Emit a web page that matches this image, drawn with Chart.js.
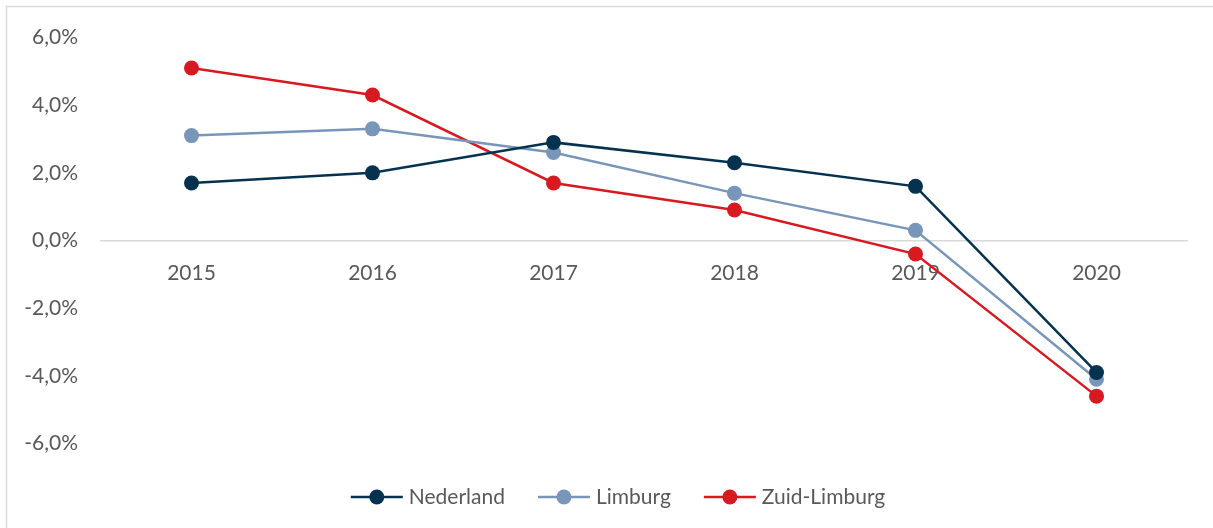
<!DOCTYPE html>
<html>
<head>
<meta charset="utf-8">
<script src="https://cdn.jsdelivr.net/npm/chart.js@4"></script>
<style>
  html, body { margin: 0; padding: 0; background: #ffffff; }
  #wrap { position: relative; width: 1213px; height: 528px; }
</style>
</head>
<body>
<div id="wrap"><canvas id="chart" width="1213" height="528"></canvas></div>
<script>
// Jaarlijkse verandering (%) per regio
const years = ['2015', '2016', '2017', '2018', '2019', '2020'];
const nederland = [1.7, 2.0, 2.9, 2.3, 1.6, -3.9];
const limburg = [3.1, 3.3, 2.6, 1.4, 0.3, -4.1];
const zuidLimburg = [5.1, 4.3, 1.7, 0.9, -0.4, -4.6];
const yTicks = [-6, -4, -2, 0, 2, 4, 6];

const FONT = 'Lato, "Open Sans", sans-serif';
const TEXT = '#595959';

function series(label, data, color) {
  return {
    label, data,
    borderColor: color,
    backgroundColor: color,
    pointBackgroundColor: color,
    pointBorderColor: color,
    borderWidth: 2.5,
    pointRadius: 7.5,
    pointHoverRadius: 7.5,
    pointBorderWidth: 0,
    tension: 0
  };
}

// Frame around the chart object
const framePlugin = {
  id: 'frame',
  beforeDraw(chart) {
    const ctx = chart.ctx;
    ctx.save();
    ctx.strokeStyle = '#d9d9d9';
    ctx.lineWidth = 1.5;
    ctx.strokeRect(6.5, 6.5, chart.width + 20, chart.height + 20);
    ctx.restore();
  }
};

// Legend with line + marker swatches, centred below the plot
const lineLegend = {
  id: 'lineLegend',
  afterDraw(chart) {
    const ctx = chart.ctx;
    const sets = chart.data.datasets;
    const swatch = 52, gap = 6, itemGap = 33, y = 497;
    ctx.save();
    ctx.font = '21px ' + FONT;
    const widths = sets.map(d => swatch + gap + ctx.measureText(d.label).width);
    const total = widths.reduce((a, b) => a + b, 0) + itemGap * (sets.length - 1);
    let x = 618 - total / 2;
    sets.forEach((d, i) => {
      ctx.strokeStyle = d.borderColor;
      ctx.lineWidth = 2.5;
      ctx.beginPath();
      ctx.moveTo(x, y);
      ctx.lineTo(x + swatch, y);
      ctx.stroke();
      ctx.fillStyle = d.borderColor;
      ctx.beginPath();
      ctx.arc(x + swatch / 2, y, 7.5, 0, Math.PI * 2);
      ctx.fill();
      ctx.fillStyle = TEXT;
      ctx.textBaseline = 'middle';
      ctx.textAlign = 'left';
      ctx.fillText(d.label, x + swatch + gap, y);
      x += widths[i] + itemGap;
    });
    ctx.restore();
  }
};

new Chart(document.getElementById('chart'), {
  type: 'line',
  data: {
    labels: years,
    datasets: [
      series('Nederland', nederland, '#05324f'),
      series('Limburg', limburg, '#7895ba'),
      series('Zuid-Limburg', zuidLimburg, '#d71920')
    ]
  },
  options: {
    responsive: false,
    animation: false,
    devicePixelRatio: 1,
    layout: { padding: { left: 0, right: 26, top: 37.5, bottom: 84.5 } },
    plugins: {
      legend: { display: false },
      tooltip: { enabled: false }
    },
    scales: {
      x: {
        position: { y: 0 },
        offset: true,
        grid: { display: false, drawTicks: false },
        border: { display: true, color: '#d9d9d9', width: 1.5 },
        ticks: { color: TEXT, font: { family: FONT, size: 21 }, padding: 20, maxRotation: 0 }
      },
      y: {
        min: -6, max: 6,
        afterBuildTicks(scale) { scale.ticks = yTicks.map(v => ({ value: v })); },
        afterFit(scale) { scale.width = 101; },
        grid: { display: false, drawTicks: false },
        border: { display: false },
        ticks: {
          color: TEXT,
          font: { family: FONT, size: 21 },
          padding: 23,
          callback: v => v.toFixed(1).replace('.', ',') + '%'
        }
      }
    }
  },
  plugins: [framePlugin, lineLegend]
});
</script>
</body>
</html>
